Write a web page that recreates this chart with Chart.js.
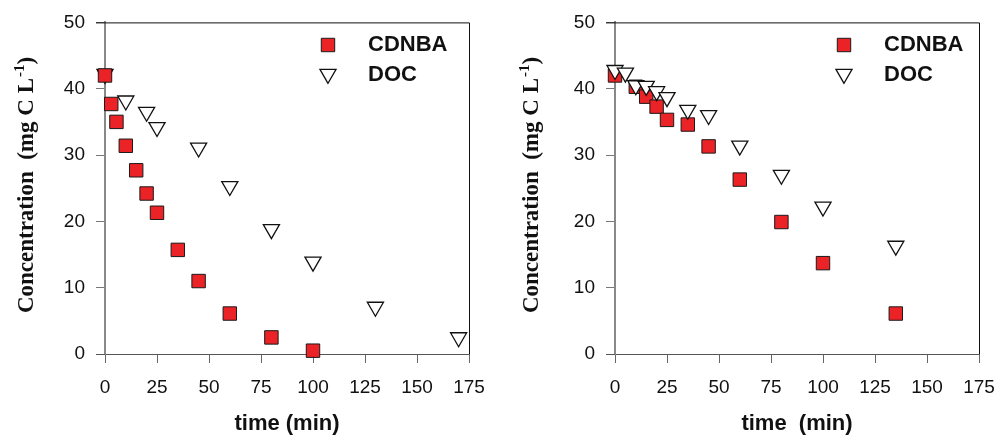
<!DOCTYPE html>
<html>
<head>
<meta charset="utf-8">
<script src="https://cdn.jsdelivr.net/npm/chart.js@4.4.1/dist/chart.umd.min.js"></script>
<style>
  html, body { margin: 0; background: #fff; overflow: hidden; width: 998px; height: 435px; }
  .panel { position: absolute; top: 0; }
</style>
</head>
<body>
<div class="panel" style="left:0"><canvas id="leftChart" width="499" height="435"></canvas></div>
<div class="panel" style="left:510px"><canvas id="rightChart" width="499" height="435"></canvas></div>
<script>
// axis ticks
const timeTicks = [0, 25, 50, 75, 100, 125, 150, 175];
const concTicks = [0, 10, 20, 30, 40, 50];

// left run
const leftCdnbaTime = [0, 3, 5.5, 10, 15, 20, 25, 35, 45, 60, 80, 100];
const leftCdnba = [42, 37.7, 35.0, 31.4, 27.7, 24.2, 21.3, 15.7, 11.0, 6.1, 2.5, 0.5];
const leftDocTime = [0, 10, 20, 25, 45, 60, 80, 100, 130, 170];
const leftDoc = [42.2, 38.2, 36.5, 34.2, 31.1, 25.3, 18.8, 13.9, 7.1, 2.5];

// right run
const rightCdnbaTime = [0, 10, 15, 20, 25, 35, 45, 60, 80, 100, 135];
const rightCdnba = [42, 40.3, 38.8, 37.3, 35.3, 34.6, 31.3, 26.3, 19.9, 13.7, 6.1];
const rightDocTime = [0, 5, 10, 15, 20, 25, 35, 45, 60, 80, 100, 135];
const rightDoc = [42.8, 42.4, 40.5, 40.4, 39.6, 38.7, 36.8, 36.0, 31.4, 27.0, 22.2, 16.3];

const sans = "'Liberation Sans', Arial, sans-serif";
const serif = "'Liberation Serif', 'Times New Roman', serif";
const redFill = '#ec2326';

function toPoints(xs, ys) {
    return xs.map((x, i) => ({ x: x, y: ys[i] }));
}

// frame, axis titles and the little legend box
const panelDecor = {
    id: 'panelDecor',
    afterDraw(chart, args, opts) {
        const ctx = chart.ctx;
        const a = chart.chartArea;
        ctx.save();

        // top and right frame lines, x-axis stub left of the y-axis
        ctx.strokeStyle = '#111';
        ctx.lineWidth = 1;
        ctx.beginPath();
        ctx.moveTo(a.left - 9, a.top + 0.5);
        ctx.lineTo(a.right + 0.5, a.top + 0.5);
        ctx.lineTo(a.right + 0.5, a.bottom);
        ctx.stroke();
        ctx.strokeStyle = '#555';
        ctx.beginPath();
        ctx.moveTo(a.left - 9, a.bottom + 0.5);
        ctx.lineTo(a.left, a.bottom + 0.5);
        ctx.stroke();

        // x title
        ctx.fillStyle = '#111';
        ctx.font = 'bold 22px ' + sans;
        ctx.textAlign = 'center';
        ctx.textBaseline = 'alphabetic';
        ctx.fillText(opts.xTitle, (a.left + a.right) / 2, 430);

        // y title with superscript
        const main = 'Concentration  (mg C L';
        const sup = '-1';
        const tail = ')';
        const mainFont = 'bold 23px ' + serif;
        const supFont = 'bold 15px ' + serif;
        ctx.font = mainFont;
        const wMain = ctx.measureText(main).width;
        const wTail = ctx.measureText(tail).width;
        ctx.font = supFont;
        const wSup = ctx.measureText(sup).width + 1;
        const total = wMain + wSup + wTail;
        ctx.translate(opts.yTitleX, 185);
        ctx.rotate(-Math.PI / 2);
        ctx.textAlign = 'left';
        let x0 = -total / 2;
        ctx.font = mainFont;
        ctx.fillText(main, x0, 0);
        ctx.font = supFont;
        ctx.fillText(sup, x0 + wMain + 1, -9);
        ctx.font = mainFont;
        ctx.fillText(tail, x0 + wMain + wSup, 0);
        ctx.setTransform(1, 0, 0, 1, 0, 0);

        // legend
        const ds = chart.data.datasets;
        const rows = [ds.find(d => d.label === 'CDNBA'), ds.find(d => d.label === 'DOC')];
        const rowY = [45, 74];
        rows.forEach((d, i) => {
            ctx.fillStyle = d.backgroundColor;
            ctx.strokeStyle = d.borderColor;
            ctx.lineWidth = d.borderWidth;
            Chart.helpers.drawPoint(ctx, {
                pointStyle: d.pointStyle,
                radius: d.pointRadius,
                rotation: d.rotation || 0,
                borderWidth: d.borderWidth
            }, opts.legendX, rowY[i]);
            ctx.fillStyle = '#111';
            ctx.font = 'bold 22px ' + sans;
            ctx.textAlign = 'left';
            ctx.textBaseline = 'middle';
            ctx.fillText(d.label, opts.legendX + 40, i === 0 ? 45 : 75);
        });
        ctx.restore();
    }
};

function makePanel(canvasId, cdnbaT, cdnba, docT, doc, decor, docOnTop) {
    const ctx = document.getElementById(canvasId).getContext('2d');
    const width = ctx.canvas.width;
    return new Chart(ctx, {
        type: 'scatter',
        data: {
            datasets: [{
                label: 'CDNBA',
                data: toPoints(cdnbaT, cdnba),
                pointStyle: 'rect',
                pointRadius: 9.5,
                backgroundColor: redFill,
                borderColor: '#1a1a1a',
                borderWidth: 1,
                clip: false,
                order: docOnTop ? 1 : 0
            }, {
                label: 'DOC',
                data: toPoints(docT, doc),
                pointStyle: 'triangle',
                rotation: 180,
                pointRadius: 9.3,
                backgroundColor: '#ffffff',
                borderColor: '#111',
                borderWidth: 1.3,
                clip: false,
                order: docOnTop ? 0 : 1
            }]
        },
        options: {
            responsive: false,
            animation: false,
            layout: {
                padding: { left: 0, top: 22, right: width - 469, bottom: 0 }
            },
            plugins: {
                legend: { display: false },
                tooltip: { enabled: false },
                panelDecor: decor
            },
            scales: {
                x: {
                    type: 'linear',
                    min: timeTicks[0],
                    max: timeTicks[timeTicks.length - 1],
                    afterBuildTicks: s => { s.ticks = timeTicks.map(v => ({ value: v })); },
                    afterFit: s => { s.height = 81; },
                    ticks: {
                        font: { family: sans, size: 19 },
                        color: '#111',
                        padding: 13,
                        maxRotation: 0
                    },
                    grid: {
                        drawOnChartArea: false,
                        tickLength: 9,
                        color: '#666',
                        lineWidth: 1
                    },
                    border: { display: true, color: '#555', width: 1 }
                },
                y: {
                    min: concTicks[0],
                    max: concTicks[concTicks.length - 1],
                    afterBuildTicks: s => { s.ticks = concTicks.map(v => ({ value: v })); },
                    afterFit: s => { s.width = 105; },
                    ticks: {
                        font: { family: sans, size: 19 },
                        color: '#111',
                        padding: 11
                    },
                    grid: {
                        drawOnChartArea: false,
                        tickLength: 9,
                        color: '#777',
                        lineWidth: 1
                    },
                    border: { display: true, color: '#888', width: 2 }
                }
            }
        },
        plugins: [panelDecor]
    });
}

makePanel('leftChart', leftCdnbaTime, leftCdnba, leftDocTime, leftDoc,
    { xTitle: 'time (min)', yTitleX: 33, legendX: 328 }, false);
makePanel('rightChart', rightCdnbaTime, rightCdnba, rightDocTime, rightDoc,
    { xTitle: 'time  (min)', yTitleX: 28, legendX: 334 }, true);
</script>
</body>
</html>
